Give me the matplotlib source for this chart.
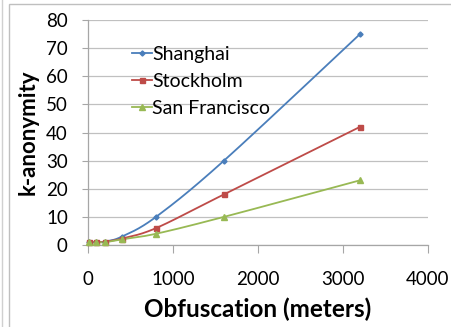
import numpy as np
import matplotlib
matplotlib.use("Agg")
import matplotlib.pyplot as plt
from matplotlib.patches import Rectangle
from matplotlib.lines import Line2D

# Obfuscation radius (meters) and the resulting k-anonymity per city
obfuscation = [10, 100, 200, 400, 800, 1600, 3200]
shanghai = [1, 1, 1.2, 3, 10, 30, 75]
stockholm = [1, 1, 1.2, 2.3, 6, 18, 42]
san_francisco = [1, 1, 1, 2, 4, 10, 23]

series = [
    ("Shanghai", shanghai, "#4A7EBB", "D", 2.6),
    ("Stockholm", stockholm, "#BE4B48", "s", 3.6),
    ("San Francisco", san_francisco, "#98B954", "^", 3.8),
]

XMAX, YMAX = 4000, 80

plt.rcParams["font.family"] = ["Lato", "DejaVu Sans"]

fig = plt.figure(figsize=(4.52, 3.27), dpi=100)
AX = [88 / 452, 1 - 245 / 327, 340 / 452, 225 / 327]
ax = fig.add_axes(AX)
ax.set_xlim(0, XMAX)
ax.set_ylim(0, YMAX)

# axes size in pixels, used so the spline is smoothed in screen space
W = AX[2] * 452
H = AX[3] * 327


def smooth(xs, ys, n=30):
    px = np.asarray(xs, float) / XMAX * W
    py = np.asarray(ys, float) / YMAX * H
    pts = np.column_stack([px, py])
    out = []
    for i in range(len(pts) - 1):
        p0 = pts[i - 1] if i > 0 else pts[i]
        p1, p2 = pts[i], pts[i + 1]
        p3 = pts[i + 2] if i + 2 < len(pts) else pts[i + 1]
        c1 = p1 + (p2 - p0) / 6.0
        c2 = p2 - (p3 - p1) / 6.0
        t = np.linspace(0, 1, n)[:, None]
        seg = ((1 - t) ** 3) * p1 + 3 * ((1 - t) ** 2) * t * c1 + 3 * (1 - t) * t ** 2 * c2 + t ** 3 * p2
        out.append(seg if i == 0 else seg[1:])
    out = np.vstack(out)
    return out[:, 0] / W * XMAX, out[:, 1] / H * YMAX


handles = []
for name, ys, color, marker, ms in series:
    sx, sy = smooth(obfuscation, ys)
    ax.plot(sx, sy, color=color, lw=1.3, zorder=3, clip_on=False)
    ax.plot(obfuscation, ys, ls="none", marker=marker, ms=ms, color=color,
            markeredgecolor=color, zorder=4, clip_on=False)
    handles.append(Line2D([], [], color=color, lw=1.3, marker=marker, ms=ms,
                          markeredgecolor=color))

ax.set_yticks(range(0, YMAX + 1, 10))
ax.set_xticks(range(0, XMAX + 1, 1000))
ax.grid(axis="y", color="#C0C0C0", lw=0.9)
ax.set_axisbelow(True)

for side in ("top", "right"):
    ax.spines[side].set_visible(False)
for side in ("left", "bottom"):
    ax.spines[side].set_color("#A6A6A6")
    ax.spines[side].set_linewidth(0.9)

ax.tick_params(axis="y", length=4.5, color="#A6A6A6", labelsize=13.5, pad=10)
ax.tick_params(axis="x", length=5.8, color="#A6A6A6", labelsize=13.5, pad=13)

ax.set_xlabel("Obfuscation (meters)", fontsize=17.5, fontweight="bold")
ax.set_ylabel("k-anonymity", fontsize=16, fontweight="bold")
ax.xaxis.set_label_coords(0.5, -0.235)
ax.yaxis.set_label_coords(-0.145, 0.5)

leg = ax.legend(handles, [s[0] for s in series], loc="upper left",
                bbox_to_anchor=(0.108, 0.918), frameon=False, fontsize=14,
                handlelength=1.0, handletextpad=0.0, labelspacing=0.5,
                borderaxespad=0)

# light outer chart border
fig.patches.append(Rectangle((9 / 452, -0.01), 1.0, 1 - 4 / 327 + 0.01,
                             transform=fig.transFigure, fill=False,
                             edgecolor="#BFBFBF", lw=1.0))
fig.add_artist(Line2D([2.5 / 452, 2.5 / 452], [0, 1], transform=fig.transFigure,
                      color="#D0D0D0", lw=1.0))

fig.savefig("out.png", dpi=100)
